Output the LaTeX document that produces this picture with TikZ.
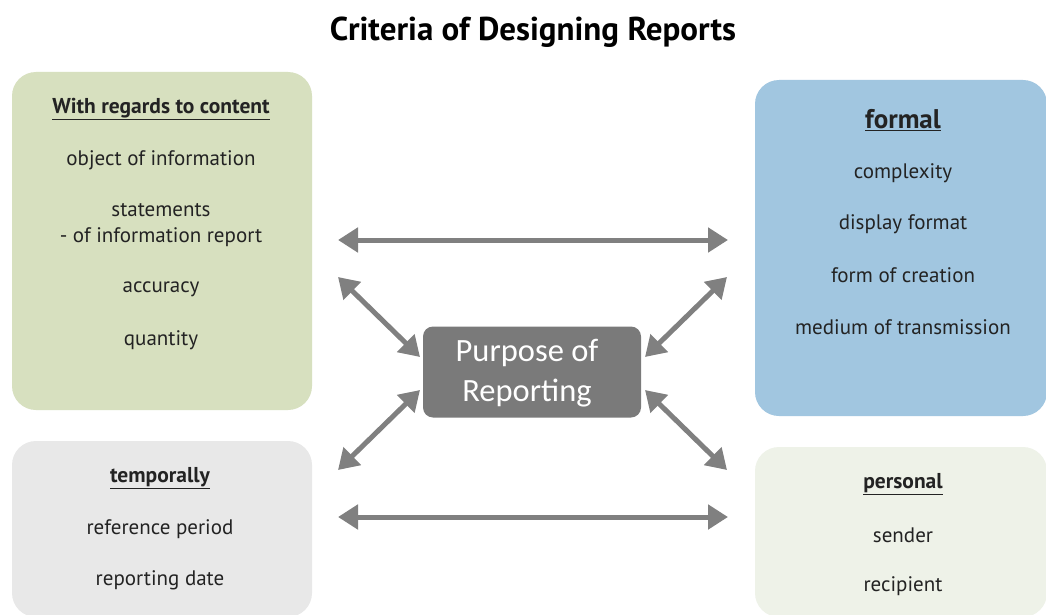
\documentclass[tikz,border=0pt]{standalone}
\usepackage{fontspec}
\setmainfont{PT Sans}
\newfontfamily\calib{Carlito}
\usetikzlibrary{arrows.meta}
\definecolor{cgreen}{RGB}{215,224,191}
\definecolor{cblue}{RGB}{161,198,224}
\definecolor{cgray}{RGB}{232,232,232}
\definecolor{clight}{RGB}{238,242,232}
\definecolor{cdark}{RGB}{122,122,122}
\definecolor{carrow}{RGB}{128,128,128}
\definecolor{ctext}{RGB}{35,35,35}
\newcommand{\ul}[1]{\underline{#1}}
\tikzset{
  panel/.style={draw=none, rounded corners=24pt, inner sep=0pt},
  item/.style={font=\fontsize{21}{24}\selectfont, text=ctext, align=center, inner sep=0pt, yshift=-2.5pt},
  head/.style={font=\fontsize{21.5}{24}\selectfont\bfseries, text=ctext, inner sep=0pt, yshift=-2pt},
  link/.style={draw=carrow, line width=5pt, {Triangle[width=24pt,length=20pt]}-{Triangle[width=24pt,length=20pt]}},
}
\begin{document}
\begin{tikzpicture}[x=1pt,y=-1pt]
\fill[white] (0,0) rectangle (1046,615);
\useasboundingbox (0,0) rectangle (1046,615);

\node[font=\fontsize{33}{36}\selectfont\bfseries, text=black] (title) at (533,32) {Criteria of Designing Reports};

% panels
\node[panel, fill=cgreen, minimum width=300pt, minimum height=338pt] (content) at (162,241) {};
\node[panel, fill=cblue, minimum width=292pt, minimum height=336pt] (formal) at (901,248) {};
\node[panel, fill=cgray, minimum width=300pt, minimum height=176pt] (temporal) at (162,529) {};
\node[panel, fill=clight, minimum width=292pt, minimum height=170pt] (personal) at (901,532) {};
\node[draw=none, fill=cdark, rounded corners=10pt, minimum width=218pt, minimum height=91pt] (purpose) at (532,372) {};
\node[font=\calib\fontsize{32.5}{40}\selectfont, text=white, align=center] (purposetext) at (527,373) {Purpose of\\Reporting};

% content texts
\node[head] (h1) at (161,107) {\ul{With regards to content}};
\node[item] (c1) at (161,158) {object of information};
\node[item] (c2) at (161,223) {statements\\[2pt]- of information report};
\node[item] (c3) at (161,287) {accuracy};
\node[item] (c4) at (161,338) {quantity};

% formal texts
\node[head, font=\fontsize{27}{30}\selectfont\bfseries] (h2) at (903,118) {\ul{formal}};
\node[item] (f1) at (903,171) {complexity};
\node[item] (f2) at (903,222) {display format};
\node[item] (f3) at (903,273) {form of creation};
\node[item] (f4) at (903,325) {medium of transmission};

% temporal texts
\node[head] (h3) at (160,476) {\ul{temporally}};
\node[item] (t1) at (160,527) {reference period};
\node[item] (t2) at (160,578) {reporting date};

% personal texts
\node[head] (h4) at (903,482) {\ul{personal}};
\node[item] (p1) at (903,533) {sender};
\node[item] (p2) at (903,584) {recipient};

% arrow end points
\coordinate (a1) at (338,240); \coordinate (a2) at (728,240);
\coordinate (b1) at (338,517); \coordinate (b2) at (728,517);
\coordinate (d1) at (338,277); \coordinate (d2) at (420,357);
\coordinate (e1) at (727,277); \coordinate (e2) at (645,357);
\coordinate (g1) at (420,390); \coordinate (g2) at (338,470);
\coordinate (k1) at (645,390); \coordinate (k2) at (727,470);

\draw[link] (a1) -- (a2);
\draw[link] (b1) -- (b2);
\draw[link] (d1) -- (d2);
\draw[link] (e1) -- (e2);
\draw[link] (g1) -- (g2);
\draw[link] (k1) -- (k2);
\end{tikzpicture}
\end{document}
